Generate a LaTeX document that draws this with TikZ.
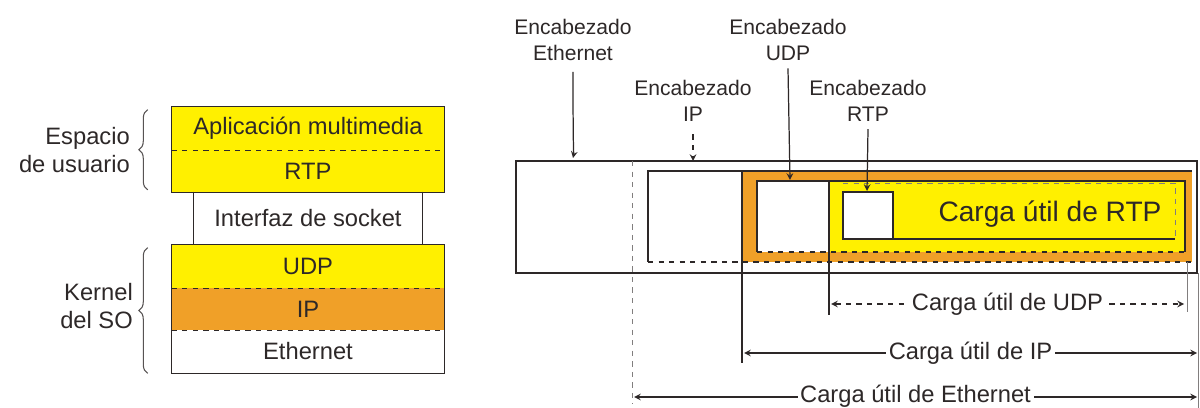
\documentclass[tikz,border=0pt]{standalone}
\usepackage{fontspec}
\setmainfont{Liberation Sans}
\usetikzlibrary{shapes,arrows,positioning,calc,decorations.pathreplacing}
\definecolor{pktyellow}{RGB}{255,240,0}
\definecolor{pktorange}{RGB}{240,160,40}
\definecolor{ink}{RGB}{45,40,40}

\begin{document}
\begin{tikzpicture}[
    x=0.02cm,
    y=-0.02cm,
    layer/.style={
        rectangle,
        inner sep=0pt,
        minimum width=5.44cm,
        minimum height=0.85cm,
        align=center,
        text=ink,
        font=\fontsize{13.5}{16}\selectfont
    },
    sidetext/.style={
        align=right,
        anchor=east,
        text=ink,
        font=\fontsize{13.5}{15.5}\selectfont
    },
    hdrlabel/.style={
        align=center,
        inner sep=1pt,
        text=ink,
        font=\fontsize{12}{15}\selectfont
    },
    payload/.style={
        fill=white,
        inner sep=1.5pt,
        text=ink,
        font=\fontsize{13.5}{16}\selectfont
    },
    frame/.style={
        draw=ink,
        line width=0.8pt
    },
    sep/.style={
        draw=ink,
        dashed,
        line width=0.6pt
    },
    bracket/.style={
        draw=ink!80,
        line width=0.6pt,
        decorate,
        decoration={brace, amplitude=5pt}
    },
    hdrarrow/.style={
        ->,
        >=stealth,
        draw=ink,
        line width=0.7pt
    },
    dimarrow/.style={
        <->,
        >=stealth,
        draw=ink,
        line width=0.7pt
    },
    guide/.style={
        draw=ink!60,
        line width=0.5pt
    }
]
\useasboundingbox (0,0) rectangle (1200,408);

% --- Protocol stack ---
\node[layer, fill=pktyellow, minimum height=0.86cm] (app) at (308,128.5) {Aplicación multimedia};
\node[layer, fill=pktyellow, minimum height=0.84cm] (rtp) at (308,171) {RTP};
\node[layer, minimum width=4.56cm, minimum height=1.06cm] (sock) at (308,218.5) {Interfaz de socket};
\node[layer, fill=pktyellow, minimum height=0.86cm] (udp) at (308,266.5) {UDP};
\node[layer, fill=pktorange, minimum height=0.84cm] (ip) at (308,309) {IP};
\node[layer, minimum height=0.86cm] (eth) at (308,351.5) {Ethernet};

\draw[frame] (app.north west) rectangle (rtp.south east);
\draw[sep] (app.south west) -- (app.south east);
\draw[frame] (sock.north west) -- (sock.south west);
\draw[frame] (sock.north east) -- (sock.south east);
\draw[frame] (udp.north west) rectangle (eth.south east);
\draw[sep] (udp.south west) -- (udp.south east);
\draw[sep] (ip.south west) -- (ip.south east);

% --- Braces ---
\draw[bracket] ([shift={(-0.48cm,0.05cm)}]rtp.south west) -- ([shift={(-0.48cm,-0.06cm)}]app.north west);
\draw[bracket] ([shift={(-0.48cm,0.0cm)}]eth.south west) -- ([shift={(-0.48cm,-0.06cm)}]udp.north west);
\node[sidetext] (user) at (136,150) {Espacio\\de usuario};
\node[sidetext] (kernel) at (139,306) {Kernel\\del SO};

% --- Ethernet frame ---
\draw[frame] (516,161) rectangle (1197,273);
\draw[guide, dashed] (632,161) -- (632,404);

% --- IP datagram ---
\fill[pktorange] (742,171) rectangle (1192,262);
\draw[frame] (648,262) -- (648,171) -- (1192,171);
\draw[sep] (648,262) -- (1192,262);
\draw[frame] (742,171) -- (742,363);

% --- UDP segment ---
\fill[white] (757,181) rectangle (829,252);
\fill[pktyellow] (829,181) rectangle (1185,252);
\draw[frame] (757,252) -- (757,181) -- (1185,181) -- (1185,252);
\draw[sep] (757,252) -- (1185,252);
\draw[frame] (829,181) -- (829,315);

% --- RTP packet ---
\draw[guide, dashed] (843,183) -- (1175,183) -- (1175,239);
\draw[frame] (843,239) -- (1175,239);
\draw[frame, fill=white, line width=1.1pt] (843,192) rectangle (893,239);
\node[text=ink, font=\fontsize{16}{18}\selectfont] (rtppay) at (1050,214) {Carga útil de RTP};

% --- Header labels ---
\node[hdrlabel] (ethhd) at (573,40) {Encabezado\\Ethernet};
\node[hdrlabel] (iphd) at (693,101) {Encabezado\\IP};
\node[hdrlabel] (udphd) at (788,40) {Encabezado\\UDP};
\node[hdrlabel] (rtphd) at (868,101) {Encabezado\\RTP};
\coordinate (ethtip) at (573,158);
\coordinate (iptip) at (693,161);
\coordinate (udptip) at (790,180);
\coordinate (rtptip) at (867,191);
\draw[hdrarrow] ([yshift=-5pt]ethhd.south) .. controls +(-0.12,0.6) and +(0.12,-0.6) .. (ethtip);
\draw[hdrarrow, dashed] ([yshift=-6pt]iphd.south) -- (iptip);
\draw[hdrarrow] ([yshift=-3pt]udphd.south) -- (udptip);
\draw[hdrarrow] ([yshift=-3pt]rtphd.south) -- (rtptip);

% --- Payload extents ---
\coordinate (udpL) at (831,304);
\coordinate (udpR) at (1184,304);
\coordinate (ipL) at (744,353);
\coordinate (ipR) at (1197,353);
\coordinate (ethL) at (634,397);
\coordinate (ethR) at (1197,397);
\draw[guide] (1187,262) -- (1187,312);
\draw[guide] (1198,273) -- (1198,408);
\draw[dimarrow, dashed] (udpL) -- (udpR) node[midway, payload] {Carga útil de UDP};
\draw[dimarrow] (ipL) -- (ipR) node[midway, payload] {Carga útil de IP};
\draw[dimarrow] (ethL) -- (ethR) node[midway, payload, yshift=0.5pt] {Carga útil de Ethernet};

\end{tikzpicture}
\end{document}
